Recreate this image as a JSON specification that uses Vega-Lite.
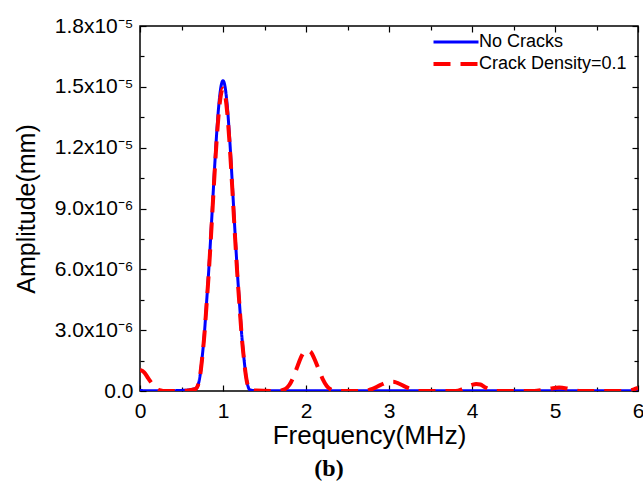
{
  "$schema": "https://vega.github.io/schema/vega-lite/v6.json",
  "width": 498,
  "height": 365,
  "autosize": {"type": "none"},
  "padding": {"left": 140, "top": 26, "right": 5, "bottom": 98},
  "background": "white",
  "config": {
    "view": {"stroke": "black", "strokeWidth": 1.5},
    "font": "Liberation Sans",
    "axis": {"labelFont": "Liberation Sans", "titleFont": "Liberation Sans", "labelColor": "black", "titleColor": "black", "tickColor": "black", "tickWidth": 1.2, "domain": false, "grid": false, "titleFontWeight": "normal"}
  },
  "title": {"text": "(b)", "orient": "bottom", "anchor": "middle", "frame": "bounds", "font": "Liberation Serif", "fontSize": 24, "fontWeight": "bold", "offset": 9, "color": "black"},
  "resolve": {"axis": {"x": "independent", "y": "independent"}},
  "data": {
    "values": [
      {"f": 0, "a": 0.02e-6, "s": "No Cracks"},
      {"f": 0.3, "a": 0.01e-6, "s": "No Cracks"},
      {"f": 0.5, "a": 0.03e-6, "s": "No Cracks"},
      {"f": 0.6, "a": 0.06e-6, "s": "No Cracks"},
      {"f": 0.65, "a": 0.1e-6, "s": "No Cracks"},
      {"f": 0.675, "a": 0.12e-6, "s": "No Cracks"},
      {"f": 0.7, "a": 0.3e-6, "s": "No Cracks"},
      {"f": 0.725, "a": 0.8e-6, "s": "No Cracks"},
      {"f": 0.75, "a": 1.7e-6, "s": "No Cracks"},
      {"f": 0.775, "a": 2.8e-6, "s": "No Cracks"},
      {"f": 0.8, "a": 4.25e-6, "s": "No Cracks"},
      {"f": 0.825, "a": 5.74e-6, "s": "No Cracks"},
      {"f": 0.85, "a": 7.45e-6, "s": "No Cracks"},
      {"f": 0.875, "a": 9.28e-6, "s": "No Cracks"},
      {"f": 0.9, "a": 11.11e-6, "s": "No Cracks"},
      {"f": 0.925, "a": 12.78e-6, "s": "No Cracks"},
      {"f": 0.95, "a": 14.12e-6, "s": "No Cracks"},
      {"f": 0.975, "a": 15.0e-6, "s": "No Cracks"},
      {"f": 1.0, "a": 15.3e-6, "s": "No Cracks"},
      {"f": 1.025, "a": 15.0e-6, "s": "No Cracks"},
      {"f": 1.05, "a": 14.12e-6, "s": "No Cracks"},
      {"f": 1.075, "a": 12.78e-6, "s": "No Cracks"},
      {"f": 1.1, "a": 11.11e-6, "s": "No Cracks"},
      {"f": 1.125, "a": 9.28e-6, "s": "No Cracks"},
      {"f": 1.15, "a": 7.45e-6, "s": "No Cracks"},
      {"f": 1.175, "a": 5.74e-6, "s": "No Cracks"},
      {"f": 1.2, "a": 4.25e-6, "s": "No Cracks"},
      {"f": 1.225, "a": 2.8e-6, "s": "No Cracks"},
      {"f": 1.25, "a": 1.7e-6, "s": "No Cracks"},
      {"f": 1.275, "a": 0.8e-6, "s": "No Cracks"},
      {"f": 1.3, "a": 0.25e-6, "s": "No Cracks"},
      {"f": 1.325, "a": 0.05e-6, "s": "No Cracks"},
      {"f": 1.4, "a": 0.02e-6, "s": "No Cracks"},
      {"f": 2, "a": 0.01e-6, "s": "No Cracks"},
      {"f": 3, "a": 0.01e-6, "s": "No Cracks"},
      {"f": 4, "a": 0.01e-6, "s": "No Cracks"},
      {"f": 5, "a": 0.01e-6, "s": "No Cracks"},
      {"f": 6, "a": 0.01e-6, "s": "No Cracks"},
      {"f": 0, "a": 1.04e-6, "s": "Crack Density=0.1"},
      {"f": 0.05, "a": 0.92e-6, "s": "Crack Density=0.1"},
      {"f": 0.1, "a": 0.62e-6, "s": "Crack Density=0.1"},
      {"f": 0.15, "a": 0.33e-6, "s": "Crack Density=0.1"},
      {"f": 0.2, "a": 0.12e-6, "s": "Crack Density=0.1"},
      {"f": 0.25, "a": 0.03e-6, "s": "Crack Density=0.1"},
      {"f": 0.3, "a": 0, "s": "Crack Density=0.1"},
      {"f": 0.5, "a": 0, "s": "Crack Density=0.1"},
      {"f": 0.6, "a": 0.04e-6, "s": "Crack Density=0.1"},
      {"f": 0.65, "a": 0.08e-6, "s": "Crack Density=0.1"},
      {"f": 0.675, "a": 0.12e-6, "s": "Crack Density=0.1"},
      {"f": 0.7, "a": 0.3e-6, "s": "Crack Density=0.1"},
      {"f": 0.725, "a": 0.78e-6, "s": "Crack Density=0.1"},
      {"f": 0.75, "a": 1.66e-6, "s": "Crack Density=0.1"},
      {"f": 0.775, "a": 2.73e-6, "s": "Crack Density=0.1"},
      {"f": 0.8, "a": 4.14e-6, "s": "Crack Density=0.1"},
      {"f": 0.825, "a": 5.6e-6, "s": "Crack Density=0.1"},
      {"f": 0.85, "a": 7.26e-6, "s": "Crack Density=0.1"},
      {"f": 0.875, "a": 9.05e-6, "s": "Crack Density=0.1"},
      {"f": 0.9, "a": 10.83e-6, "s": "Crack Density=0.1"},
      {"f": 0.925, "a": 12.46e-6, "s": "Crack Density=0.1"},
      {"f": 0.95, "a": 13.77e-6, "s": "Crack Density=0.1"},
      {"f": 0.975, "a": 14.62e-6, "s": "Crack Density=0.1"},
      {"f": 1.0, "a": 14.92e-6, "s": "Crack Density=0.1"},
      {"f": 1.025, "a": 14.62e-6, "s": "Crack Density=0.1"},
      {"f": 1.05, "a": 13.77e-6, "s": "Crack Density=0.1"},
      {"f": 1.075, "a": 12.46e-6, "s": "Crack Density=0.1"},
      {"f": 1.1, "a": 10.83e-6, "s": "Crack Density=0.1"},
      {"f": 1.125, "a": 9.05e-6, "s": "Crack Density=0.1"},
      {"f": 1.15, "a": 7.26e-6, "s": "Crack Density=0.1"},
      {"f": 1.175, "a": 5.6e-6, "s": "Crack Density=0.1"},
      {"f": 1.2, "a": 4.14e-6, "s": "Crack Density=0.1"},
      {"f": 1.225, "a": 2.73e-6, "s": "Crack Density=0.1"},
      {"f": 1.25, "a": 1.66e-6, "s": "Crack Density=0.1"},
      {"f": 1.275, "a": 0.78e-6, "s": "Crack Density=0.1"},
      {"f": 1.3, "a": 0.25e-6, "s": "Crack Density=0.1"},
      {"f": 1.325, "a": 0.06e-6, "s": "Crack Density=0.1"},
      {"f": 1.4, "a": 0.02e-6, "s": "Crack Density=0.1"},
      {"f": 1.65, "a": 0, "s": "Crack Density=0.1"},
      {"f": 1.75, "a": 0.1e-6, "s": "Crack Density=0.1"},
      {"f": 1.8, "a": 0.3e-6, "s": "Crack Density=0.1"},
      {"f": 1.85, "a": 0.7e-6, "s": "Crack Density=0.1"},
      {"f": 1.9, "a": 1.25e-6, "s": "Crack Density=0.1"},
      {"f": 1.95, "a": 1.75e-6, "s": "Crack Density=0.1"},
      {"f": 2.0, "a": 2.0e-6, "s": "Crack Density=0.1"},
      {"f": 2.05, "a": 1.95e-6, "s": "Crack Density=0.1"},
      {"f": 2.1, "a": 1.6e-6, "s": "Crack Density=0.1"},
      {"f": 2.15, "a": 1.1e-6, "s": "Crack Density=0.1"},
      {"f": 2.2, "a": 0.6e-6, "s": "Crack Density=0.1"},
      {"f": 2.25, "a": 0.25e-6, "s": "Crack Density=0.1"},
      {"f": 2.3, "a": 0.07e-6, "s": "Crack Density=0.1"},
      {"f": 2.35, "a": 0, "s": "Crack Density=0.1"},
      {"f": 2.7, "a": 0, "s": "Crack Density=0.1"},
      {"f": 2.8, "a": 0.1e-6, "s": "Crack Density=0.1"},
      {"f": 2.9, "a": 0.3e-6, "s": "Crack Density=0.1"},
      {"f": 3.0, "a": 0.45e-6, "s": "Crack Density=0.1"},
      {"f": 3.05, "a": 0.46e-6, "s": "Crack Density=0.1"},
      {"f": 3.1, "a": 0.4e-6, "s": "Crack Density=0.1"},
      {"f": 3.2, "a": 0.2e-6, "s": "Crack Density=0.1"},
      {"f": 3.3, "a": 0.05e-6, "s": "Crack Density=0.1"},
      {"f": 3.35, "a": 0, "s": "Crack Density=0.1"},
      {"f": 3.8, "a": 0, "s": "Crack Density=0.1"},
      {"f": 3.9, "a": 0.12e-6, "s": "Crack Density=0.1"},
      {"f": 4.0, "a": 0.3e-6, "s": "Crack Density=0.1"},
      {"f": 4.05, "a": 0.35e-6, "s": "Crack Density=0.1"},
      {"f": 4.1, "a": 0.32e-6, "s": "Crack Density=0.1"},
      {"f": 4.15, "a": 0.2e-6, "s": "Crack Density=0.1"},
      {"f": 4.25, "a": 0.03e-6, "s": "Crack Density=0.1"},
      {"f": 4.3, "a": 0, "s": "Crack Density=0.1"},
      {"f": 4.75, "a": 0, "s": "Crack Density=0.1"},
      {"f": 4.85, "a": 0.05e-6, "s": "Crack Density=0.1"},
      {"f": 4.95, "a": 0.12e-6, "s": "Crack Density=0.1"},
      {"f": 5.05, "a": 0.17e-6, "s": "Crack Density=0.1"},
      {"f": 5.15, "a": 0.12e-6, "s": "Crack Density=0.1"},
      {"f": 5.25, "a": 0.03e-6, "s": "Crack Density=0.1"},
      {"f": 5.3, "a": 0, "s": "Crack Density=0.1"},
      {"f": 5.8, "a": 0, "s": "Crack Density=0.1"},
      {"f": 5.9, "a": 0.03e-6, "s": "Crack Density=0.1"},
      {"f": 5.95, "a": 0.08e-6, "s": "Crack Density=0.1"},
      {"f": 6.0, "a": 0.15e-6, "s": "Crack Density=0.1"}
    ]
  },
  "layer": [
    {
      "mark": {"type": "line", "interpolate": "monotone", "clip": true},
      "encoding": {
        "x": {"field": "f", "type": "quantitative", "scale": {"domain": [0, 6], "nice": false},
          "axis": {"orient": "bottom", "values": [0, 1, 2, 3, 4, 5, 6], "title": "Frequency(MHz)", "titleFontSize": 26, "labelFontSize": 21, "tickSize": -6, "labelPadding": 15, "titlePadding": 1, "titleX": 229, "titleAlign": "center", "labelFlush": false}},
        "y": {"field": "a", "type": "quantitative", "scale": {"domain": [0, 1.8e-5], "nice": false},
          "axis": {"orient": "left", "values": [0, 3e-6, 6e-6, 9e-6, 1.2e-5, 1.5e-5, 1.8e-5], "title": "Amplitude(mm)", "titleFontSize": 25, "labelFontSize": 21, "tickSize": -6, "labelPadding": 13, "titlePadding": 15, "labelFlush": false,
            "labelExpr": "datum.value < 1e-7 ? '0.0' : (datum.value < 1e-5 ? format(datum.value*1e6, '.1f') + 'x10⁻⁶' : format(datum.value*1e5, '.1f') + 'x10⁻⁵')"}},
        "color": {"field": "s", "type": "nominal", "scale": {"domain": ["No Cracks", "Crack Density=0.1"], "range": ["#0000ff", "#ff0000"]},
          "legend": {"title": null, "orient": "none", "legendX": 307, "legendY": 7, "labelFontSize": 18, "labelFont": "Liberation Sans", "labelColor": "black", "symbolType": "M-5,0H5", "symbolSize": 81, "labelOffset": 14, "rowPadding": 4}},
        "strokeDash": {"field": "s", "type": "nominal", "scale": {"domain": ["No Cracks", "Crack Density=0.1"], "range": [[1, 0], [17, 10]]}},
        "strokeWidth": {"field": "s", "type": "nominal", "scale": {"domain": ["No Cracks", "Crack Density=0.1"], "range": [3, 4]}}
      }
    },
    {
      "mark": {"type": "point", "opacity": 0, "size": 1},
      "encoding": {
        "x": {"field": "f", "type": "quantitative", "axis": {"orient": "bottom", "values": [0.5, 1.5, 2.5, 3.5, 4.5, 5.5], "labels": false, "title": null, "tickSize": -4}},
        "y": {"field": "a", "type": "quantitative", "axis": {"orient": "left", "values": [1.5e-6, 4.5e-6, 7.5e-6, 1.05e-5, 1.35e-5, 1.65e-5], "labels": false, "title": null, "tickSize": -4}}
      }
    },
    {
      "mark": {"type": "point", "opacity": 0, "size": 1},
      "encoding": {
        "x": {"field": "f", "type": "quantitative", "axis": {"orient": "top", "values": [0, 1, 2, 3, 4, 5, 6], "labels": false, "title": null, "tickSize": -6}},
        "y": {"field": "a", "type": "quantitative", "axis": {"orient": "right", "values": [0, 3e-6, 6e-6, 9e-6, 1.2e-5, 1.5e-5, 1.8e-5], "labels": false, "title": null, "tickSize": -6}}
      }
    },
    {
      "mark": {"type": "point", "opacity": 0, "size": 1},
      "encoding": {
        "x": {"field": "f", "type": "quantitative", "axis": {"orient": "top", "values": [0.5, 1.5, 2.5, 3.5, 4.5, 5.5], "labels": false, "title": null, "tickSize": -4}},
        "y": {"field": "a", "type": "quantitative", "axis": {"orient": "right", "values": [1.5e-6, 4.5e-6, 7.5e-6, 1.05e-5, 1.35e-5, 1.65e-5], "labels": false, "title": null, "tickSize": -4}}
      }
    }
  ]
}
